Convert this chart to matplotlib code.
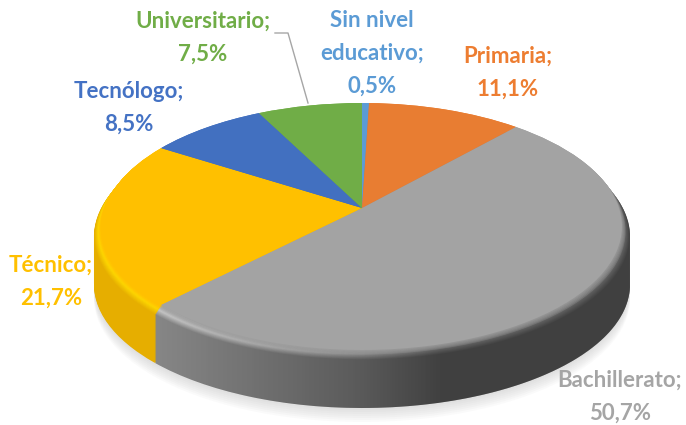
import matplotlib
matplotlib.use('Agg')

import numpy as np
import matplotlib.pyplot as plt
from matplotlib.colors import to_rgb
from matplotlib.path import Path
from matplotlib.patches import PathPatch
from matplotlib.transforms import Affine2D, Transform

categories = ['Sin nivel\neducativo', 'Primaria', 'Bachillerato', 'Técnico', 'Tecnólogo', 'Universitario']
values = [0.5, 11.1, 50.7, 21.7, 8.5, 7.5]
face_colors = ['#5B9BD5', '#E87D32', '#A3A3A3', '#FFC000', '#4270C0', '#70AD47']
light_colors = ['#7DB5E5', '#F59A58', '#CCCCCC', '#FFD900', '#6A90D8', '#92C870']
side_colors = ['#4A82B5', '#C4662A', '#868686', '#E6AE00', '#375EA5', '#5C9039']
label_colors = ['#5B9BD5', '#ED7D31', '#A5A5A5', '#FFC000', '#4472C4', '#70AD47']
label_x = [372, 508, 620, 51, 129, 203]
label_y = [53, 73, 397, 282, 108, 38]


class Perspective(Transform):
    # tilted disc: unit circle to ellipse, apex stays off centre
    input_dims = 2
    output_dims = 2

    def __init__(self, k, top=103, bottom=350, apex_x=362, apex_y=208):
        super().__init__()
        self.k = k
        self.x0 = apex_x
        self.b = apex_y
        self.c = (top + bottom - 2 * apex_y) / (bottom - top)
        self.a = top * (1 + self.c) - apex_y

    def transform_non_affine(self, values):
        xy = np.asarray(values)
        d = self.c * xy[:, 1] + 1
        return np.column_stack([self.x0 + self.k * xy[:, 0] / d,
                                (self.a * xy[:, 1] + self.b) / d])


def blend(c1, c2, f):
    return tuple((1 - f) * np.array(to_rgb(c1)) + f * np.array(to_rgb(c2)))


def layer(ax, colors, t=1.0, shift=0, alpha=None, vals=values, zorder=1):
    # t: 0 = inner top face, 1 = outer rim
    persp = Perspective(257 + 8 * t)
    wedges, _ = ax.pie(vals, colors=colors, startangle=90, counterclock=False, frame=True,
                       wedgeprops={'linewidth': 0, 'alpha': alpha, 'zorder': zorder})
    for w in wedges:
        w.set_transform(persp + Affine2D().translate(0, 10 * t + shift) + ax.transData)


fig = plt.figure(figsize=(6.86, 4.25), dpi=100)
ax = fig.add_axes([0, 0, 1, 1])

# soft shadow
for s in range(50, 64, 2):
    layer(ax, ['#808080'], shift=s, alpha=0.035, vals=[1], zorder=0.5)

# side wall
for s in range(48, 0, -1):
    layer(ax, side_colors, shift=s)

# bevel
for t in np.linspace(1, 0, 15):
    if t > 0.45:
        f = (1 - t) / 0.55
        cols = [blend(a, b, f) for a, b in zip(side_colors, light_colors)]
    else:
        f = (0.45 - t) / 0.45
        cols = [blend(a, b, f) for a, b in zip(light_colors, face_colors)]
    layer(ax, cols, t=t)

# darkening of the wall to the right
xs = np.arange(0, 686)
shade = np.zeros((1, len(xs), 4))
shade[0, :, 3] = np.interp(xs, [157, 360, 440], [0, 0.33, 0.52])
img = ax.imshow(shade, extent=[0, 686, 425, 0], aspect='auto', interpolation='bilinear', zorder=2)

tt = np.linspace(0, 2 * np.pi, 400)
outer = Perspective(265).transform(np.column_stack([np.cos(tt), np.sin(tt)]))
outer[:, 1] += 10
widest = outer[np.argmax(outer[:, 0]), 1]
outer[outer[:, 1] > widest, 1] += 48
clip = PathPatch(Path(outer), transform=ax.transData, facecolor='none', linewidth=0)
ax.add_patch(clip)
img.set_clip_path(clip)

# top face, blended softly into the rim
for t in [0.45, 0.35, 0.25, 0.15, 0.08]:
    layer(ax, face_colors, t=t, alpha=0.3, zorder=3)
layer(ax, face_colors, t=0, zorder=3)

# leader line for Universitario
ax.plot([275, 288, 308], [33, 33, 103], color='#A6A6A6', lw=1, zorder=4)

for cat, val, col, x, y in zip(categories, values, label_colors, label_x, label_y):
    txt = f'{cat};\n{val:.1f}%'.replace('.', ',')
    ax.text(x, y, txt, color=col, ha='center', va='center', family='Lato',
            fontweight='bold', fontsize=16, linespacing=1.7, zorder=5)

ax.set_xlim(0, 686)
ax.set_ylim(425, 0)
ax.set_aspect('auto')
ax.axis('off')

plt.savefig('out.png', dpi=100)
